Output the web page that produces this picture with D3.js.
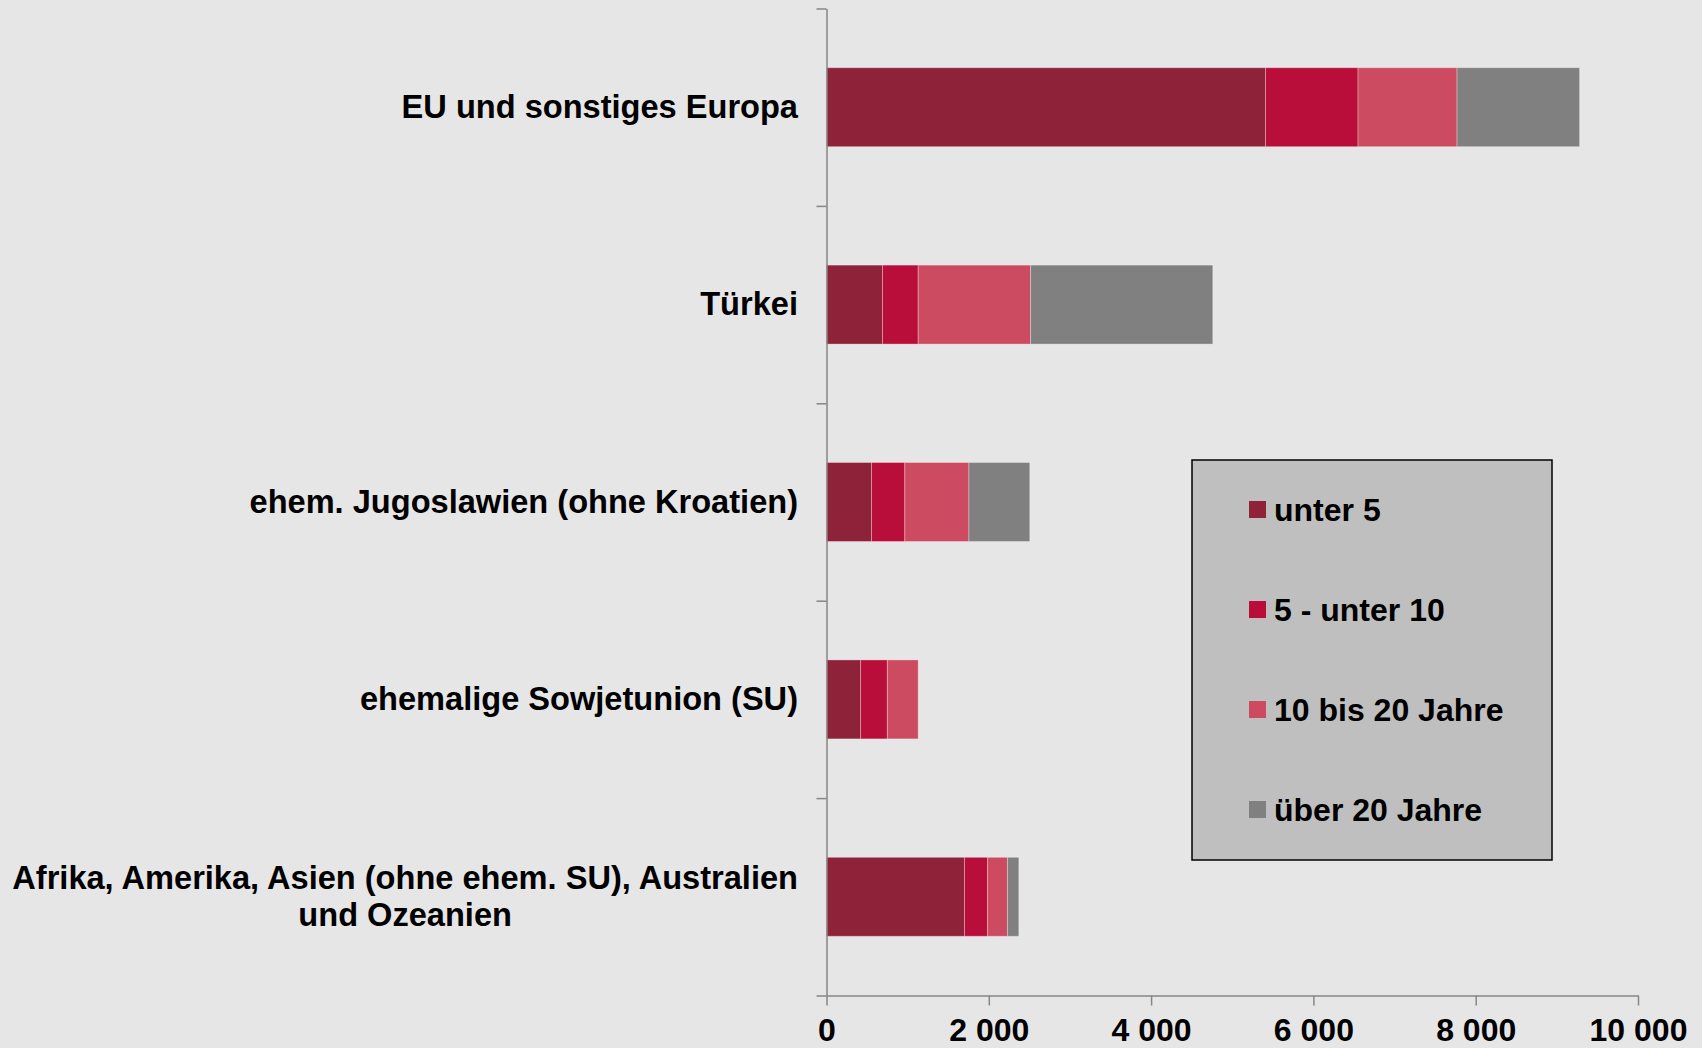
<!DOCTYPE html>
<html>
<head>
<meta charset="utf-8">
<script src="https://cdn.jsdelivr.net/npm/d3@7"></script>
<style>
  html, body { margin: 0; padding: 0; background: #e6e6e6; overflow: hidden; }
  svg { display: block; }
  text { font-family: "Liberation Sans", Arial, sans-serif; font-weight: bold; fill: #000; }
</style>
</head>
<body>
<script>

// Herkunftsregionen (Zeilen von oben nach unten)
var categories = ["EU und sonstiges Europa", "Türkei", "ehem. Jugoslawien (ohne Kroatien)",
                  "ehemalige Sowjetunion (SU)", "Afrika, Amerika, Asien (ohne ehem. SU), Australien\nund Ozeanien"];

// Aufenthaltsdauer
var seriesNames = ["unter 5", "5 - unter 10", "10 bis 20 Jahre", "über 20 Jahre"];
var unter5   = [5410, 690, 555, 420, 1700];
var von5bis10 = [1140, 440, 410, 330, 285];
var von10bis20 = [1220, 1385, 790, 380, 245];
var ueber20  = [1510, 2245, 750, 0, 140];

var tickValues = [0, 2000, 4000, 6000, 8000, 10000];
var tickLabels = ["0", "2 000", "4 000", "6 000", "8 000", "10 000"];

var colors = ["#8e2239", "#b90e39", "#cc4b61", "#808080"];

var width = 1702, height = 1048;
var x0 = 826.5, x1 = 1638, yTop = 8.5, yBottom = 995.5;

var rows = categories.map(function(c, i){
  return {cat: c, s0: unter5[i], s1: von5bis10[i], s2: von10bis20[i], s3: ueber20[i]};
});
var keys = ["s0", "s1", "s2", "s3"];
var stacked = d3.stack().keys(keys)(rows);

var svg = d3.select("body").append("svg").attr("width", width).attr("height", height);

svg.append("rect").attr("width", width).attr("height", height).attr("fill", "#e6e6e6");

var x = d3.scaleLinear().domain([0, 10000]).range([x0, x1]);
var y = d3.scaleBand().domain(categories).range([yTop, yBottom]).paddingInner(0.6).paddingOuter(0.3);
var yEdge = d3.scaleLinear().domain([0, categories.length]).range([yTop, yBottom]);

// bars
svg.append("g").selectAll("g")
  .data(stacked)
  .enter().append("g")
    .attr("fill", function(d, i){ return colors[i]; })
  .selectAll("rect")
  .data(function(d){ return d; })
  .enter().append("rect")
    .attr("x", function(d){ return x(d[0]); })
    .attr("y", function(d){ return y(d.data.cat); })
    .attr("width", function(d){ return Math.max(0, x(d[1]) - x(d[0])); })
    .attr("height", y.bandwidth())
    .attr("stroke", "rgba(255,255,255,0.3)")
    .attr("stroke-width", 1)
    .style("display", function(d){ return d[1] - d[0] > 0 ? null : "none"; });

// y axis (Kategoriegrenzen)
var yAxis = d3.axisLeft(yEdge).tickValues(d3.range(categories.length + 1)).tickSize(10).tickSizeOuter(0).tickFormat("");
var gy = svg.append("g").attr("transform", "translate(" + x0 + ",0)").call(yAxis);
gy.selectAll("path, line").attr("stroke", "#868686").attr("stroke-width", 1.5);

// x axis
var xAxis = d3.axisBottom(x).tickValues(tickValues).tickSize(10).tickSizeOuter(0)
  .tickFormat(function(d, i){ return tickLabels[i]; });
var gx = svg.append("g").attr("transform", "translate(0," + yBottom + ")").call(xAxis);
gx.selectAll("path, line").attr("stroke", "#868686").attr("stroke-width", 1.5);
gx.selectAll("text").attr("y", 45).attr("dy", null)
  .style("font-size", "32px").style("font-family", "'Liberation Sans', Arial, sans-serif")
  .style("font-weight", "bold").attr("fill", "#000");

// category labels
var labelRight = 798;
categories.forEach(function(c){
  var lines = c.split("\n");
  var cy = y(c) + y.bandwidth() / 2;
  var t = svg.append("text").style("font-size", "32.6px").attr("text-anchor", "middle");
  lines.forEach(function(l, i){
    t.append("tspan").text(l).attr("y", cy + 10.5 + (i - (lines.length - 1) / 2) * 37);
  });
  var maxW = 0;
  t.selectAll("tspan").each(function(){ maxW = Math.max(maxW, this.getComputedTextLength()); });
  t.selectAll("tspan").attr("x", labelRight - maxW / 2);
});

// legend
var legend = svg.append("g");
legend.append("rect").attr("x", 1192).attr("y", 460).attr("width", 360).attr("height", 400)
  .attr("fill", "#bfbfbf").attr("stroke", "#000").attr("stroke-width", 1.5);
seriesNames.forEach(function(n, i){
  var cy = 509.5 + i * 100;
  legend.append("rect").attr("x", 1249).attr("y", cy - 8.5).attr("width", 17).attr("height", 17).attr("fill", colors[i]);
  legend.append("text").attr("x", 1274).attr("y", cy + 11).style("font-size", "32px").text(n);
});

</script>
</body>
</html>
